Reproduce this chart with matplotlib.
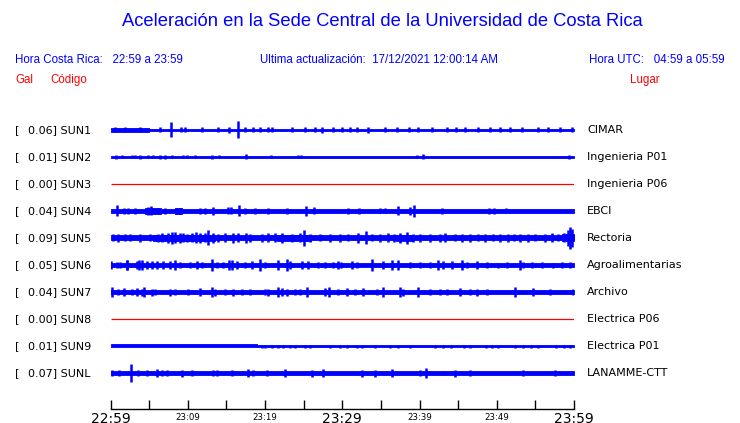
import numpy as np
import matplotlib
matplotlib.use("Agg")
import matplotlib.pyplot as plt

# estaciones
codigos = ["SUN1", "SUN2", "SUN3", "SUN4", "SUN5", "SUN6", "SUN7", "SUN8", "SUN9", "SUNL"]
lugares = ["CIMAR", "Ingenieria P01", "Ingenieria P06", "EBCI", "Rectoria",
           "Agroalimentarias", "Archivo", "Electrica P06", "Electrica P01", "LANAMME-CTT"]
gal = [0.06, 0.01, 0.00, 0.04, 0.09, 0.05, 0.04, 0.00, 0.01, 0.07]

tick_min = [0, 5, 10, 15, 20, 25, 30, 35, 40, 45, 50, 55, 60]
tick_lbl = {0: "22:59", 10: "23:09", 20: "23:19", 30: "23:29", 40: "23:39", 50: "23:49", 60: "23:59"}

# ancho de la banda de ruido (minuto inicio, minuto fin, semiamplitud)
base_sun1 = [(0, 5, 1.6), (5, 30, 1.1), (30, 60, 0.8)]
base_sun2 = [(0, 60, 0.7)]
base_sun3 = [(0, 60, 0.0)]
base_sun4 = [(0, 40, 1.9), (40, 60, 2.2), (4.5, 6.5, 2.8), (8.4, 9.2, 2.6)]
base_sun5 = [(0, 60, 2.5), (5.5, 13.5, 3.3), (21.5, 26, 3.0), (37, 39, 3.0), (58.5, 60, 3.5)]
base_sun6 = [(0, 60, 1.7)]
base_sun7 = [(0, 60, 1.9)]
base_sun8 = [(0, 60, 0.0)]
base_sun9 = [(0, 19, 1.5), (19, 60, 0.6)]
base_sunl = [(0, 43, 1.9), (43, 60, 2.3)]

# picos (minuto, semiamplitud)
pic_sun1 = [(7.8, 7.5), (16.5, 8.5), (0.6, 2.5), (1.9, 2.5), (3.8, 2.5), (6.4, 2.5), (9.1, 2.5),
            (9.6, 2.5), (11.8, 2.5), (13.9, 2.5), (15.3, 3.0), (17.4, 2.5), (18.4, 2.5), (19.3, 2.5),
            (20.4, 2.5), (20.9, 2.5), (23.5, 2.5), (25.2, 2.5), (26.5, 2.5), (27.4, 3.0), (28.8, 2.5),
            (30.0, 2.5), (31.0, 2.5), (31.9, 2.5), (33.3, 3.0), (35.5, 2.5), (37.1, 2.5), (38.7, 2.5),
            (39.8, 2.5), (41.6, 2.5), (43.6, 2.5), (44.7, 2.5), (45.9, 2.5), (47.6, 2.5), (49.1, 2.5),
            (50.4, 2.5), (51.7, 2.5), (53.3, 2.5), (55.3, 2.5), (56.6, 2.5), (58.2, 2.5), (59.7, 2.5)]
pic_sun2 = [(0.7, 2.0), (1.5, 1.5), (2.8, 1.5), (3.2, 1.5), (3.8, 2.0), (4.9, 1.5), (5.5, 1.5),
            (6.4, 2.0), (7.1, 2.0), (8.0, 1.5), (9.4, 1.5), (9.9, 1.5), (10.9, 1.5), (13.1, 2.0),
            (14.1, 1.5), (17.5, 2.5), (20.8, 1.5), (24.3, 1.5), (24.7, 1.5), (39.7, 1.5), (40.5, 2.5),
            (59.4, 2.0)]
pic_sun3 = []
pic_sun4 = [(0.9, 5.5), (1.7, 3.0), (2.3, 3.0), (3.2, 3.0), (4.9, 4.0), (5.2, 4.5), (6.1, 3.0),
            (7.1, 3.0), (8.5, 2.8), (9.0, 2.8), (11.6, 3.0), (12.2, 3.0), (13.3, 4.0), (15.2, 3.5),
            (15.6, 3.5), (16.6, 5.5), (17.4, 3.0), (18.7, 3.0), (20.4, 3.0), (22.8, 3.0), (25.3, 5.0),
            (26.3, 3.5), (30.7, 3.0), (32.2, 3.0), (34.9, 2.5), (35.5, 2.5), (37.2, 4.5), (38.8, 4.0),
            (39.3, 6.0), (42.9, 3.0), (49.0, 3.0), (49.6, 3.0), (51.2, 2.5)]
pic_sun5 = [(0.3, 3.5), (1.0, 4.0), (1.9, 3.5), (2.5, 3.5), (3.8, 4.0), (5.1, 3.5), (6.1, 4.0),
            (6.7, 4.5), (7.4, 5.0), (8.0, 6.0), (8.3, 5.5), (9.0, 5.0), (9.4, 4.5), (9.9, 4.0),
            (10.6, 4.5), (11.1, 5.5), (11.6, 5.0), (12.2, 4.5), (12.6, 7.5), (13.3, 5.0), (13.9, 4.0),
            (14.8, 4.5), (15.9, 5.0), (16.5, 4.5), (17.5, 5.0), (18.1, 4.0), (19.6, 4.0), (20.4, 4.5),
            (21.3, 4.5), (22.2, 5.0), (23.5, 4.0), (24.5, 4.5), (25.1, 8.0), (25.8, 4.0), (27.1, 3.5),
            (28.4, 4.0), (29.7, 4.0), (30.7, 3.5), (32.0, 5.0), (33.1, 6.5), (33.8, 3.5), (34.9, 4.0),
            (35.9, 4.5), (36.7, 4.0), (37.5, 5.0), (38.4, 6.0), (39.2, 4.0), (40.1, 4.0), (41.4, 4.0),
            (42.7, 4.0), (43.3, 4.5), (44.6, 3.5), (45.5, 4.0), (46.5, 4.0), (47.6, 3.5), (48.5, 4.0),
            (49.5, 3.5), (50.4, 4.0), (51.5, 4.0), (52.2, 3.5), (53.0, 4.0), (54.0, 4.0), (54.9, 3.5),
            (56.2, 4.0), (57.1, 4.5), (57.9, 3.5), (58.7, 4.5), (59.2, 8.0), (59.5, 11.0), (59.7, 9.0)]
pic_sun6 = [(0.1, 3.5), (0.9, 3.0), (1.2, 3.0), (2.1, 5.0), (2.1, 5.0), (3.4, 4.0), (3.7, 5.5),
            (4.1, 5.5), (4.7, 4.0), (5.4, 4.0), (6.0, 4.0), (6.8, 3.5), (7.7, 4.0), (8.3, 4.5),
            (9.0, 3.0), (10.3, 3.0), (11.2, 3.5), (11.8, 3.0), (13.1, 6.0), (13.8, 3.0), (14.6, 3.0),
            (15.3, 5.5), (15.7, 4.5), (16.4, 3.5), (17.4, 3.0), (18.3, 3.5), (19.4, 6.0), (20.0, 3.0),
            (21.7, 4.5), (22.8, 6.0), (23.2, 4.0), (24.8, 3.5), (25.6, 3.5), (26.9, 3.0), (27.8, 3.0),
            (28.8, 3.0), (29.5, 3.5), (29.9, 3.0), (31.2, 3.5), (31.9, 3.0), (33.9, 6.0), (35.3, 3.5),
            (36.4, 5.0), (37.2, 5.5), (38.8, 3.0), (40.1, 3.0), (41.4, 3.0), (42.4, 5.0), (43.0, 3.5),
            (44.2, 4.0), (45.5, 4.5), (46.1, 3.0), (47.4, 3.5), (48.7, 3.0), (50.2, 2.5), (51.3, 3.0),
            (53.0, 5.0), (53.4, 3.0), (54.6, 3.0), (55.9, 3.0), (57.3, 2.5), (58.4, 3.0), (59.5, 3.0)]
pic_sun7 = [(0.2, 4.5), (1.0, 3.0), (1.7, 4.0), (2.8, 3.0), (3.4, 4.0), (4.1, 3.5), (4.3, 5.5),
            (5.4, 3.5), (5.8, 3.0), (7.7, 3.5), (8.3, 3.0), (10.0, 3.0), (11.6, 4.0), (13.1, 5.5),
            (13.5, 3.5), (14.8, 3.0), (15.9, 3.5), (17.0, 3.0), (18.1, 3.0), (20.0, 3.0), (20.4, 3.5),
            (21.7, 5.5), (22.2, 4.0), (22.8, 3.5), (23.9, 3.0), (24.5, 3.0), (25.4, 5.0), (27.8, 4.0),
            (28.3, 4.5), (29.5, 3.0), (30.6, 4.0), (31.7, 3.0), (32.7, 4.0), (34.5, 3.0), (35.3, 4.5),
            (37.5, 5.0), (37.9, 3.5), (39.8, 4.5), (41.4, 3.0), (42.7, 3.0), (43.6, 3.0), (45.2, 4.0),
            (46.5, 3.0), (47.4, 3.5), (48.7, 3.0), (52.4, 5.5), (54.7, 4.0), (56.9, 3.0), (59.9, 3.0)]
pic_sun8 = []
pic_sun9 = [(19.6, 1.5), (20.0, 1.5), (20.9, 1.5), (21.7, 1.5), (22.3, 1.5), (23.2, 1.5), (23.9, 1.5),
            (25.2, 1.5), (25.8, 1.5), (28.4, 1.5), (29.7, 1.5), (30.6, 1.5), (31.9, 1.5), (32.6, 1.5),
            (34.2, 1.5), (36.2, 1.5), (37.2, 1.5), (38.8, 1.5), (42.0, 1.5), (43.1, 1.5), (44.1, 1.5),
            (45.7, 1.5), (46.6, 1.5), (48.6, 1.5), (49.4, 1.5), (50.2, 1.5), (52.4, 1.5), (53.4, 1.5),
            (54.4, 1.5), (55.4, 1.5), (57.7, 1.5), (58.7, 1.5), (59.5, 1.5)]
pic_sunl = [(2.7, 8.7), (0.2, 3.0), (1.1, 3.0), (3.6, 2.5), (4.7, 3.0), (6.0, 4.0), (6.7, 3.0),
            (7.3, 3.0), (9.3, 3.5), (10.6, 3.0), (13.3, 3.0), (13.8, 3.0), (15.7, 2.5), (17.8, 4.0),
            (18.4, 3.0), (20.3, 2.5), (22.6, 4.0), (26.1, 3.5), (27.5, 4.0), (32.5, 3.5), (34.2, 3.5),
            (36.4, 4.0), (40.1, 3.0), (40.9, 5.0), (44.6, 3.5), (46.5, 2.5), (53.4, 2.5), (57.5, 3.0)]

bases = [base_sun1, base_sun2, base_sun3, base_sun4, base_sun5,
         base_sun6, base_sun7, base_sun8, base_sun9, base_sunl]
picos = [pic_sun1, pic_sun2, pic_sun3, pic_sun4, pic_sun5,
         pic_sun6, pic_sun7, pic_sun8, pic_sun9, pic_sunl]

azul = "#0000ff"
rojo = "#ff0000"
W, H = 740, 423
paso = 27.0  # px entre trazas

fig = plt.figure(figsize=(W / 100, H / 100), dpi=100)
fig.patch.set_facecolor("white")

y_eje = 409
y_top = 115
ax = fig.add_axes([110.5 / W, (H - y_eje) / H, (574 - 110.5) / W, (y_eje - y_top) / H])
ax.set_xlim(0, 60)
ax.set_ylim(9 + (y_eje - 373) / paso, -(130 - y_top) / paso)
for s in ["top", "left", "right"]:
    ax.spines[s].set_visible(False)
ax.spines["bottom"].set_linewidth(1.0)
ax.set_yticks([])
ax.set_xticks(tick_min)
ax.set_xticklabels([""] * len(tick_min))
ax.tick_params(axis="x", direction="in", length=6.8, width=1.0, color="black")
for m, lab in tick_lbl.items():
    grande = m in (0, 30, 60)
    ax.text(m, -0.011 if grande else -0.012, lab, transform=ax.get_xaxis_transform(),
            ha="center", va="top", fontsize=10 if grande else 6.2, family="DejaVu Sans")

for i in range(len(codigos)):
    if gal[i] == 0:
        ax.hlines(i, 0, 60, color=rojo, lw=0.9)
        continue
    for t0, t1, a in bases[i]:
        ax.fill_between([t0, t1], i - a / paso, i + a / paso, color=azul, lw=0.6)
    if picos[i]:
        t = np.array([p[0] for p in picos[i]])
        a = np.array([p[1] for p in picos[i]]) / paso
        ax.vlines(t, i - a, i + a, color=azul, lw=1.8)

# etiquetas de las trazas
for i in range(len(codigos)):
    yy = 1 - (130 + paso * i) / H
    fig.text(15 / W, yy, "[", fontsize=8, va="center", family="DejaVu Sans")
    fig.text(28 / W, yy, "%.2f] %s" % (gal[i], codigos[i]), fontsize=8, va="center",
             family="DejaVu Sans")
    fig.text(587 / W, yy, lugares[i], fontsize=8, va="center", family="DejaVu Sans")

# encabezado
sans = "Liberation Sans"
fig.text(382 / W, 1 - 22 / H, "Aceleración en la Sede Central de la Universidad de Costa Rica",
         color=azul, fontsize=13.2, ha="center", va="center", family=sans)
fig.text(15 / W, 1 - 60 / H, "Hora Costa Rica:   22:59 a 23:59", color=azul, fontsize=8.3,
         va="center", family=sans)
fig.text(260 / W, 1 - 60 / H, "Ultima actualización:  17/12/2021 12:00:14 AM", color=azul,
         fontsize=8.3, va="center", family=sans)
fig.text(725 / W, 1 - 60 / H, "Hora UTC:   04:59 a 05:59", color=azul, fontsize=8.3,
         ha="right", va="center", family=sans)
fig.text(15 / W, 1 - 80 / H, "Gal", color=rojo, fontsize=8.3, va="center", family=sans)
fig.text(50 / W, 1 - 80 / H, "Código", color=rojo, fontsize=8.3, va="center", family=sans)
fig.text(630 / W, 1 - 80 / H, "Lugar", color=rojo, fontsize=8.3, va="center", family=sans)

fig.savefig("out.png", dpi=100)
